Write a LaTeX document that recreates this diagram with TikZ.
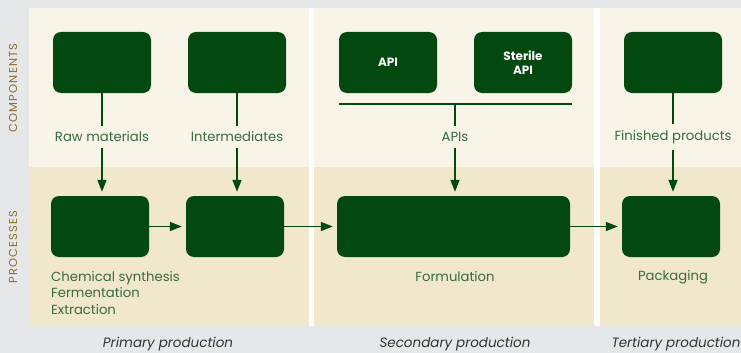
\documentclass[tikz,border=0pt]{standalone}
\usepackage{fontspec}
\setmainfont{Poppins}
\newfontfamily\capsfont{Poppins}[LetterSpace=10]
\usetikzlibrary{arrows.meta,positioning}

\definecolor{boxgreen}{HTML}{02480F}
\definecolor{labelgreen}{HTML}{376B3E}
\definecolor{greybg}{HTML}{E6E7E8}
\definecolor{cream}{HTML}{F8F4E8}
\definecolor{beige}{HTML}{F1E7CA}
\definecolor{gold}{HTML}{8C6D2C}
\definecolor{phasegrey}{HTML}{333333}

\begin{document}
\begin{tikzpicture}[x=1pt,y=-1pt,
  stage/.style={fill=boxgreen, rounded corners=8pt, minimum width=98pt,
    minimum height=61pt, inner sep=0pt, text=white, align=center,
    font=\fontsize{12}{14.5}\selectfont\bfseries},
  lbl/.style={text=labelgreen, font=\fontsize{13.2}{15}\selectfont, inner sep=6pt},
  link/.style={draw=boxgreen, line width=1.6pt},
  flow/.style={link, -{Triangle[length=12pt,width=9pt]}, shorten >=4pt},
  side/.style={text=gold, font=\capsfont\fontsize{11.5}{13}\selectfont, rotate=90},
  phase/.style={text=phasegrey, font=\fontsize{13.5}{15}\selectfont\itshape}]
  \useasboundingbox (0,0) rectangle (741,353);

  % --- background: three production columns, two rows ---
  \fill[greybg] (0,0) rectangle (741,353);
  \fill[white] (29,8) rectangle (741,326);
  \foreach \xa/\xb in {29/309, 314/594, 600/741} {
    \fill[cream] (\xa,8) rectangle (\xb,167);
    \fill[beige] (\xa,167) rectangle (\xb,326);
  }

  % --- row titles ---
  \node[side] (comp-t) at (13,88) {COMPONENTS};
  \node[side] (proc-t) at (13,247) {PROCESSES};

  % --- components ---
  \foreach \name/\x in {raw/102, inter/237, fin/673} {
    \node[stage] (\name) at (\x,62.5) {};
  }
  \node[stage] (api) at (388,62.5) {API};
  \node[stage] (sterile) at (523,62.5) {Sterile\\API};

  \foreach \name/\x/\txt in {raw/102/Raw materials, inter/237/Intermediates,
      api/455/APIs, fin/673/Finished products} {
    \node[lbl] (\name-l) at (\x,137) {\txt};
  }

  % --- processes ---
  \node[stage] (synth) at (100,226.5) {};
  \node[stage] (interp) at (235,226.5) {};
  \node[stage, minimum width=233pt] (form) at (453.5,226.5) {};
  \node[stage] (pack) at (671,226.5) {};

  \node[lbl, inner sep=0pt, anchor=north west, align=left,
    font=\fontsize{13.2}{16.5}\selectfont] (synth-l) at (51,271)
    {Chemical synthesis\\Fermentation\\Extraction};
  \node[lbl] (form-l) at (455,277) {Formulation};
  \node[lbl] (pack-l) at (673,277) {Packaging};

  % --- components feed the processes ---
  \foreach \name/\proc in {raw/synth, inter/interp, fin/pack} {
    \draw[link] (\name) -- (\name-l);
    \draw[flow] (\name-l) -- (\name-l |- \proc.north);
  }
  \coordinate (bar) at (455,104);
  \draw[link] (api.west |- bar) -- (sterile.east |- bar);
  \draw[link] (bar) -- (api-l);
  \draw[flow] (api-l) -- (api-l |- form.north);

  % --- process chain ---
  \draw[flow] (synth) -- (interp);
  \draw[flow] (interp) -- (form);
  \draw[flow] (form) -- (pack);

  % --- column titles ---
  \node[phase] (prim) at (168,344) {Primary production};
  \node[phase] (sec) at (455,344) {Secondary production};
  \node[phase] (tert) at (676,344) {Tertiary production};
\end{tikzpicture}
\end{document}
